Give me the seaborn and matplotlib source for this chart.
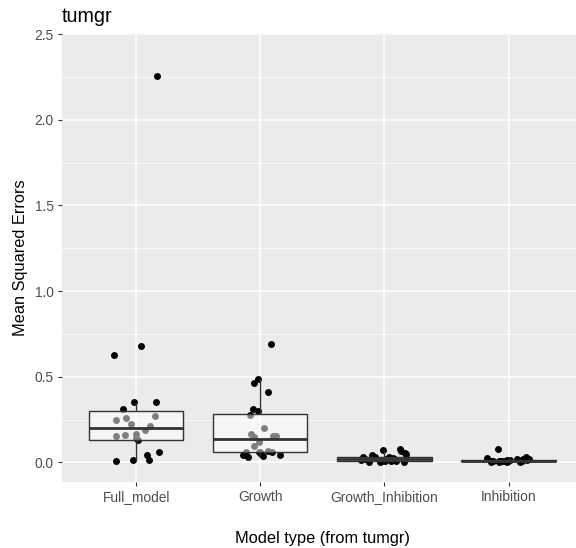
import numpy as np
import pandas as pd
import matplotlib
matplotlib.use("Agg")
import matplotlib.pyplot as plt
import seaborn as sns
from matplotlib.ticker import MultipleLocator

# Mean squared errors per model type
models = ["Full_model", "Growth", "Growth_Inhibition", "Inhibition"]

full_model = [0.010, 0.012, 0.014, 0.045, 0.059, 0.130, 0.140, 0.156, 0.160,
              0.164, 0.190, 0.210, 0.226, 0.250, 0.258, 0.270, 0.310, 0.355,
              0.355, 0.625, 0.677, 2.254]
growth = [0.031, 0.038, 0.040, 0.042, 0.050, 0.058, 0.064, 0.060, 0.060,
          0.060, 0.098, 0.120, 0.150, 0.156, 0.156, 0.166, 0.203, 0.275,
          0.299, 0.310, 0.408, 0.461, 0.486, 0.691]
growth_inhibition = [0.001, 0.002, 0.004, 0.005, 0.006, 0.007, 0.008, 0.010,
                     0.012, 0.015, 0.017, 0.018, 0.019, 0.022, 0.025, 0.028,
                     0.030, 0.032, 0.034, 0.045, 0.049, 0.053, 0.069, 0.074,
                     0.076]
inhibition = [0.001, 0.002, 0.003, 0.004, 0.005, 0.006, 0.006, 0.007, 0.007,
              0.008, 0.008, 0.009, 0.009, 0.010, 0.011, 0.012, 0.014, 0.016,
              0.018, 0.020, 0.022, 0.025, 0.030, 0.078]

values = [full_model, growth, growth_inhibition, inhibition]
df = pd.DataFrame({
    "model": np.repeat(models, [len(v) for v in values]),
    "mse": np.concatenate(values),
})

plt.rcParams["font.family"] = ["Liberation Sans", "DejaVu Sans"]

fig = plt.figure(figsize=(5.76, 5.48), dpi=100)
ax = fig.add_axes([0.1071, 0.121, 0.905, 0.8193])
ax.set_facecolor("#EBEBEB")

np.random.seed(7)
sns.stripplot(data=df, x="model", y="mse", order=models, color="black",
              size=5, jitter=0.19, linewidth=0, ax=ax, zorder=2)
sns.boxplot(data=df, x="model", y="mse", order=models, width=0.76,
            showfliers=False, showcaps=False, whis=1.5, ax=ax, zorder=3,
            boxprops={"facecolor": (1, 1, 1, 0.5), "edgecolor": "#333333",
                      "linewidth": 1.0},
            whiskerprops={"color": "#333333", "linewidth": 1.0},
            medianprops={"color": "#333333", "linewidth": 2.0})

ax.set_xlim(-0.6, 3.6)
ax.set_ylim(-0.113, 2.509)
ax.yaxis.set_major_locator(MultipleLocator(0.5))
ax.yaxis.set_minor_locator(MultipleLocator(0.25))
ax.yaxis.set_major_formatter(matplotlib.ticker.FormatStrFormatter("%.1f"))

ax.set_axisbelow(True)
ax.grid(which="major", color="white", linewidth=1.1)
ax.grid(which="minor", axis="y", color="white", linewidth=0.55)
for s in ax.spines.values():
    s.set_visible(False)

ax.tick_params(which="major", length=2.7, width=0.8, color="#333333",
               labelcolor="#4D4D4D", labelsize=9.9, pad=3)
ax.tick_params(which="minor", length=0)

ax.set_xlabel("Model type (from tumgr)", fontsize=11.8, color="black", labelpad=20)
ax.set_ylabel("Mean Squared Errors", fontsize=11.8, color="black", labelpad=5)
ax.set_title("tumgr", loc="left", fontsize=14.2, pad=8)

fig.savefig("out.png", dpi=100)
plt.close(fig)
